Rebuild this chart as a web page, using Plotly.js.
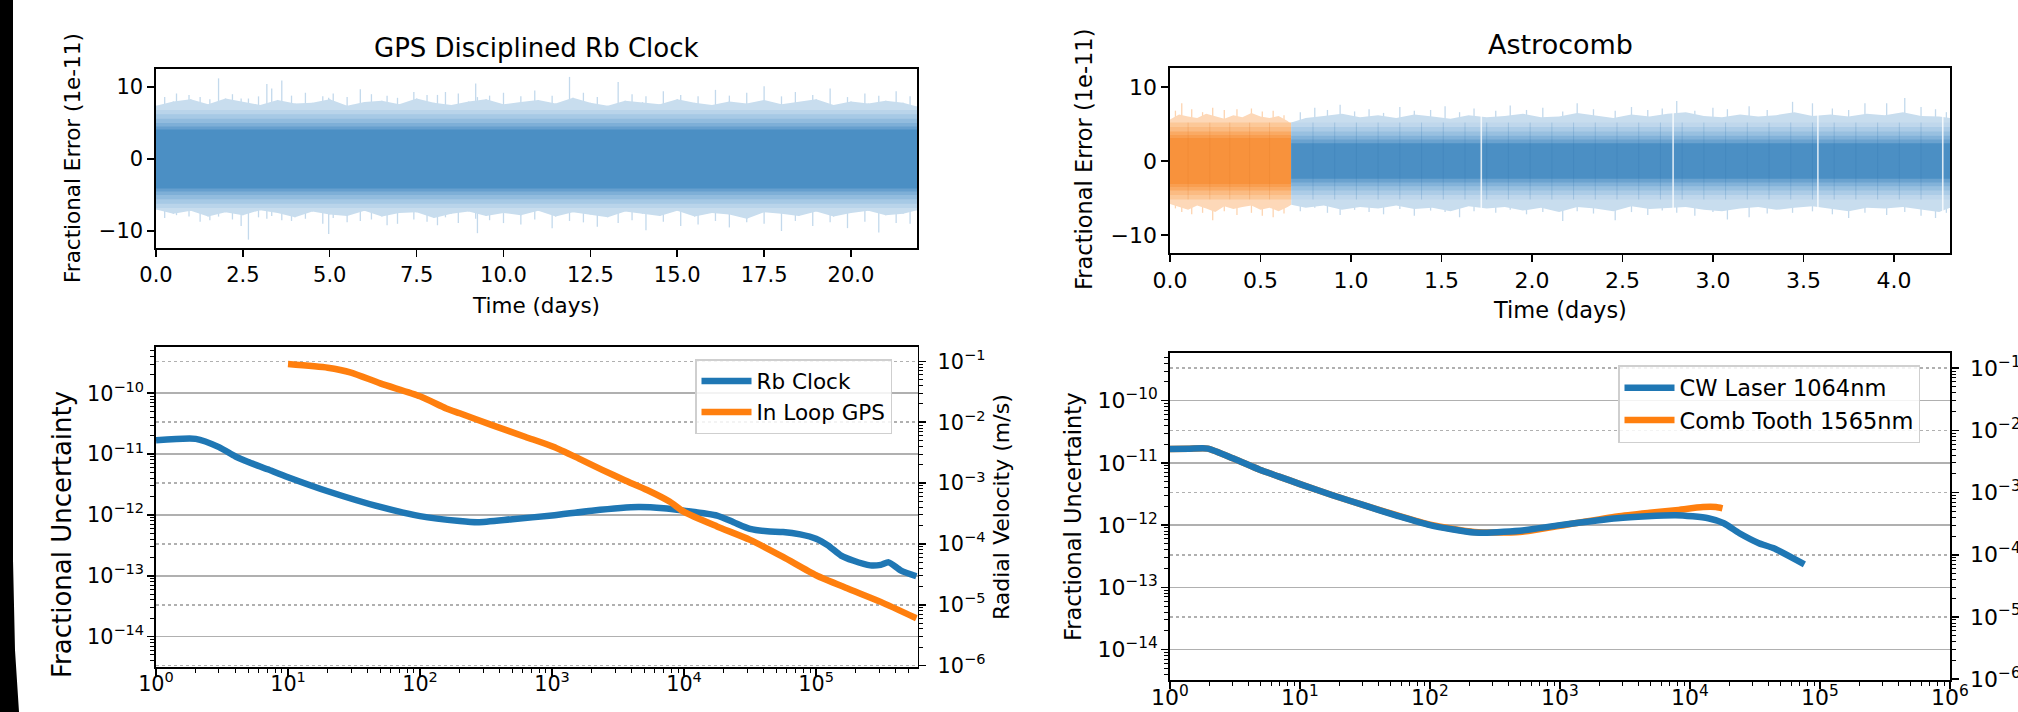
<!DOCTYPE html>
<html>
<head>
<meta charset="utf-8">
<script src="https://cdn.plot.ly/plotly-3.0.1.min.js"></script>
<style>
  html, body { margin: 0; padding: 0; background: #fff; overflow: hidden; }
  #chart { position: absolute; left: 0; top: 0; width: 2018px; height: 712px; }
  #edge { position: absolute; left: 0; top: 0; width: 20px; height: 712px; background: #000;
          clip-path: polygon(0 0, 13px 0, 13px 560px, 15px 650px, 19px 712px, 0 712px); z-index: 2; }
</style>
</head>
<body>
<div id="chart"></div>
<div id="edge"></div>
<script>
// ---------------- GPS disciplined Rb clock: fractional error (1e-11) ----------------
const rbEnvT  = [0,0.5,1,1.5,2,2.5,3,3.5,4,4.5,5,5.5,6,6.5,7,7.5,8,8.5,9,9.5,10,10.5,11,11.5,12,12.5,13,13.5,14,14.5,15,15.5,16,16.5,17,17.5,18,18.5,19,19.5,20,20.5,21,21.5,21.9];
const rbEnvHi = [7.4,8.0,8.3,7.6,8.4,7.9,7.5,8.2,7.7,7.8,8.3,7.4,7.9,8.1,7.6,8.4,7.8,7.5,8.0,8.3,7.6,7.9,8.2,7.7,8.5,7.8,7.4,8.1,7.9,7.6,8.3,7.8,7.5,8.0,7.7,8.2,7.6,7.9,8.3,7.5,8.0,7.7,8.1,7.8,7.3];
const rbEnvLo = [-7.0,-7.6,-7.2,-8.0,-7.4,-7.8,-7.1,-7.5,-8.1,-7.3,-7.7,-7.9,-7.2,-8.0,-7.5,-7.4,-8.2,-7.6,-7.3,-7.9,-7.5,-7.8,-7.2,-8.0,-7.4,-7.7,-8.1,-7.3,-7.6,-7.9,-7.2,-8.0,-7.5,-7.7,-8.3,-7.4,-7.6,-7.9,-7.3,-8.0,-7.5,-7.2,-7.8,-7.6,-7.1];
const rbSpikeT  = [0.25,0.59,0.95,1.27,1.55,1.80,2.20,2.45,2.66,2.95,3.19,3.33,3.62,3.90,4.30,4.80,4.97,5.10,5.50,5.88,6.20,6.65,6.95,7.42,7.80,8.10,8.33,8.70,9.20,9.25,9.60,10.00,10.50,10.90,11.40,11.90,12.30,12.70,13.30,13.70,14.10,14.60,15.10,15.60,16.10,16.50,17.00,17.50,18.00,18.40,18.90,19.40,19.90,20.40,20.80,21.30,21.70];
const rbSpikeHi = [8.6,9.1,8.9,8.6,8.3,11.2,9.0,8.4,8.4,8.7,10.4,9.8,10.9,8.8,9.2,8.7,8.5,9.1,8.6,9.7,9.0,8.8,8.5,9.3,8.9,8.9,9.3,9.1,10.5,8.6,8.8,9.2,8.7,9.5,8.8,11.4,9.2,8.6,10.7,9.0,8.7,9.4,8.9,8.7,9.6,8.8,9.2,10.1,8.7,9.3,8.9,9.8,8.6,9.1,8.8,9.4,8.7];
const rbSpikeLo = [-8.2,-7.8,-8.0,-8.7,-8.5,-8.0,-8.4,-9.3,-11.2,-8.1,-8.3,-7.9,-8.5,-8.6,-8.3,-9.0,-10.4,-8.2,-8.8,-8.6,-8.4,-9.2,-9.0,-8.4,-8.7,-9.2,-8.1,-8.9,-8.3,-10.3,-8.5,-8.9,-9.1,-8.4,-9.6,-8.6,-8.8,-9.4,-8.9,-8.5,-9.9,-8.7,-9.3,-9.1,-8.6,-9.5,-8.8,-9.0,-10.0,-8.6,-9.3,-8.8,-9.6,-8.7,-10.2,-8.9,-9.0];
// half widths of the increasingly dense band, outermost first
const rbBandHalf = [6.8, 6.2, 5.6, 5.0, 4.5, 4.1];

// ---------------- Astrocomb: fractional error (1e-11) ----------------
// orange stretch (first ~0.67 days)
const acOrT  = [0,0.05,0.10,0.15,0.20,0.25,0.30,0.35,0.40,0.45,0.50,0.55,0.60,0.65,0.67];
const acOrHi = [5.6,6.3,6.0,5.8,6.4,6.1,5.7,6.2,5.9,6.5,6.0,5.8,6.1,5.4,5.0];
const acOrLo = [-5.8,-6.2,-6.6,-6.0,-6.4,-6.9,-6.1,-6.5,-6.2,-6.0,-6.6,-6.3,-6.8,-6.2,-5.9];
const acOrSpikeT  = [0.03,0.065,0.12,0.18,0.236,0.30,0.37,0.45,0.51,0.57,0.63];
const acOrSpikeHi = [6.8,7.8,7.0,6.6,7.2,6.9,7.0,7.1,6.7,6.8,6.2];
const acOrSpikeLo = [-6.4,-6.9,-7.2,-7.0,-8.0,-6.8,-7.3,-7.0,-7.4,-7.6,-7.1];
const acOrStreakT = [0.10,0.22,0.33,0.44,0.55];
const acOrBandHalf = [5.2, 4.6, 4.0, 3.5, 3.1];
// blue stretch
const acBlT  = [0.67,0.75,0.85,0.95,1.05,1.15,1.25,1.35,1.45,1.55,1.65,1.75,1.85,1.95,2.05,2.15,2.25,2.35,2.45,2.55,2.65,2.75,2.85,2.95,3.05,3.15,3.25,3.35,3.45,3.55,3.65,3.75,3.85,3.95,4.05,4.15,4.25,4.31];
const acBlHi = [5.2,5.8,6.1,6.4,5.9,6.2,5.8,6.3,6.0,5.7,6.2,5.9,6.1,6.4,5.9,6.0,6.5,6.2,5.8,6.3,6.0,6.4,6.6,6.1,5.9,6.3,6.0,6.2,6.6,6.1,6.3,6.0,6.4,6.2,6.6,6.1,6.0,5.8];
const acBlLo = [-5.9,-6.3,-6.0,-6.6,-6.2,-6.4,-6.0,-6.5,-6.3,-6.8,-6.1,-6.4,-6.2,-6.7,-6.3,-6.9,-6.2,-6.4,-6.8,-6.1,-6.5,-6.3,-6.2,-6.6,-6.8,-6.4,-6.2,-6.6,-6.3,-6.1,-6.5,-6.8,-6.3,-6.4,-6.2,-6.6,-6.9,-6.3];
const acBlSpikeT  = [0.72,0.80,0.87,0.94,1.02,1.10,1.18,1.27,1.35,1.44,1.52,1.60,1.68,1.80,1.88,1.97,2.06,2.17,2.25,2.34,2.46,2.55,2.64,2.72,2.80,2.90,3.00,3.08,3.20,3.30,3.44,3.55,3.66,3.75,3.84,3.96,4.06,4.15,4.23,4.29];
const acBlSpikeHi = [6.6,7.2,6.9,7.6,6.7,7.0,6.5,7.3,6.8,6.9,7.4,6.6,7.1,6.8,7.5,6.9,7.2,6.7,7.8,7.0,6.8,7.3,6.9,7.1,8.1,6.8,7.2,7.0,7.4,6.9,8.0,7.8,7.1,6.9,7.8,7.8,8.5,7.3,7.0,6.6];
const acBlSpikeLo = [-6.8,-6.3,-7.0,-7.3,-6.6,-6.9,-7.2,-6.5,-7.4,-6.7,-6.9,-7.6,-6.8,-7.0,-6.6,-7.2,-6.9,-8.1,-6.8,-7.1,-8.0,-6.9,-7.3,-6.7,-7.0,-7.4,-6.9,-7.9,-7.6,-7.1,-7.0,-6.8,-7.2,-7.7,-7.0,-7.3,-6.9,-7.4,-7.7,-7.0];
const acBlStreakT = [0.79,0.91,1.03,1.15,1.27,1.39,1.51,1.63,1.75,1.87,1.99,2.11,2.23,2.35,2.47,2.59,2.71,2.83,2.95,3.07,3.19,3.31,3.43,3.55,3.67,3.79,3.91,4.03,4.15];
const acGapT = [1.72, 2.78, 3.58, 4.27];
const acBlBandHalf = [5.2, 4.6, 4.0, 3.4, 2.9, 2.4];
const acStreakHalf = 5.2;

// ---------------- Allan deviation (averaging time in s) ----------------
const rbTau   = [1,2,3,4,5,7,10,20,50,100,200,274,500,1000,2000,4500,7000,10000,17783,23714,31623,42658,56234,75858,100000,123027,154882,190546,257040,309030,354813,436516,575440];
const rbSigma = [1.68e-11,1.78e-11,1.30e-11,9.12e-12,7.41e-12,5.62e-12,4.17e-12,2.45e-12,1.35e-12,9.55e-13,7.94e-13,7.59e-13,8.51e-13,9.77e-13,1.175e-12,1.35e-12,1.29e-12,1.175e-12,9.77e-13,7.59e-13,5.89e-13,5.37e-13,5.25e-13,4.79e-13,4.07e-13,3.16e-13,2.14e-13,1.78e-13,1.48e-13,1.51e-13,1.66e-13,1.23e-13,9.8e-14];
const gpsTau   = [10,20,30,50,100,158,200,347,631,1023,1585,2399,3548,5248,7762,10000,17783,31623,56234,100000,173780,309030,575440];
const gpsSigma = [3.02e-10,2.63e-10,2.19e-10,1.45e-10,8.91e-11,5.62e-11,4.68e-11,3.02e-11,1.91e-11,1.32e-11,8.51e-12,5.50e-12,3.72e-12,2.57e-12,1.66e-12,1.12e-12,6.46e-13,3.89e-13,2.04e-13,1.02e-13,6.17e-14,3.72e-14,2.0e-14];
const cwTau   = [1,1.41,1.95,3.08,4.9,6.9,10,17.8,30.9,56.2,100,219,490,1000,2754,7762,13804,18197,23988,33884,43652,75858];
const cwSigma = [1.675e-11,1.69e-11,1.70e-11,1.175e-11,7.76e-12,6.03e-12,4.57e-12,3.02e-12,2.09e-12,1.41e-12,1.0e-12,7.59e-13,8.13e-13,1.0e-12,1.29e-12,1.445e-12,1.29e-12,1.07e-12,7.41e-13,5.13e-13,4.27e-13,2.34e-13];
const toothTau   = [1,1.41,1.95,3.08,4.9,6.9,10,17.8,30.9,56.2,100,219,490,1000,2754,4898,7762,12589,15849,17783];
const toothSigma = [1.675e-11,1.69e-11,1.70e-11,1.175e-11,7.76e-12,6.03e-12,4.57e-12,3.02e-12,2.09e-12,1.43e-12,1.02e-12,7.76e-13,7.76e-13,9.77e-13,1.38e-12,1.58e-12,1.74e-12,1.95e-12,1.95e-12,1.86e-12];

const SPEED_OF_LIGHT = 2.998e8;   // fractional -> radial velocity (m/s)

// ---------------- styling ----------------
const W = 2018, H = 712;
const FONT = 'DejaVu Sans';
const BLUE = '#1f77b4', ORANGE = '#ff7f0e';
const px = v => v / W;
const py = v => 1 - v / H;

const rbShades = { spike: '#c3d9ec', env: '#c8ddee',
  bands: ['#b9d4ea', '#a6c9e5', '#92bcde', '#7eafd7', '#669fce', '#4b8fc4'] };
const acBlShades = { spike: '#c3d9ec', env: '#c8ddee', streak: 'rgba(45,115,175,0.22)',
  bands: ['#bfd7ec', '#accce7', '#98c0e0', '#82b2d9', '#6aa2cf', '#4b8fc4'] };
const acOrShades = { spike: '#fdd4b0', env: '#fdd8b8', streak: 'rgba(225,120,35,0.22)',
  bands: ['#fcc898', '#fbbb82', '#faaa64', '#f99e50', '#f8923c'] };

function polygon(t, hi, lo) {
  return { x: t.concat(t.slice().reverse()), y: hi.concat(lo.slice().reverse()) };
}
function segments(t, lo, hi) {
  const x = [], y = [];
  t.forEach((v, i) => {
    x.push(v, v, null);
    y.push(Array.isArray(lo) ? lo[i] : lo, Array.isArray(hi) ? hi[i] : hi, null);
  });
  return { x, y };
}
function fillTrace(poly, color, xa, ya) {
  return { type: 'scatter', mode: 'lines', x: poly.x, y: poly.y, fill: 'toself',
           fillcolor: color, line: { width: 0, color: color }, xaxis: xa, yaxis: ya,
           hoverinfo: 'skip', showlegend: false };
}
function segTrace(seg, color, width, xa, ya) {
  return { type: 'scatter', mode: 'lines', x: seg.x, y: seg.y, line: { color: color, width: width },
           xaxis: xa, yaxis: ya, hoverinfo: 'skip', showlegend: false, connectgaps: false };
}
function bandRect(t, half) {
  const t0 = t[0], t1 = t[t.length - 1];
  return { x: [t0, t1, t1, t0, t0], y: [half, half, -half, -half, half] };
}

const traces = [];

// --- noise band, Rb clock
traces.push(segTrace(segments(rbSpikeT, rbSpikeLo, rbSpikeHi), rbShades.spike, 1.3, 'x', 'y'));
traces.push(segTrace(segments(rbEnvT, rbEnvLo, rbEnvHi), rbShades.spike, 1.3, 'x', 'y'));
traces.push(fillTrace(polygon(rbEnvT, rbEnvHi, rbEnvLo), rbShades.env, 'x', 'y'));
rbBandHalf.forEach((h, i) => traces.push(fillTrace(bandRect(rbEnvT, h), rbShades.bands[i], 'x', 'y')));

// --- noise band, Astrocomb (orange part)
traces.push(segTrace(segments(acOrSpikeT, acOrSpikeLo, acOrSpikeHi), acOrShades.spike, 1.3, 'x2', 'y2'));
traces.push(fillTrace(polygon(acOrT, acOrHi, acOrLo), acOrShades.env, 'x2', 'y2'));
acOrBandHalf.forEach((h, i) => traces.push(fillTrace(bandRect(acOrT, h), acOrShades.bands[i], 'x2', 'y2')));
traces.push(segTrace(segments(acOrStreakT, -acStreakHalf, acStreakHalf), acOrShades.streak, 1, 'x2', 'y2'));

// --- noise band, Astrocomb (blue part)
traces.push(segTrace(segments(acBlSpikeT, acBlSpikeLo, acBlSpikeHi), acBlShades.spike, 1.3, 'x2', 'y2'));
traces.push(fillTrace(polygon(acBlT, acBlHi, acBlLo), acBlShades.env, 'x2', 'y2'));
acBlBandHalf.forEach((h, i) => traces.push(fillTrace(bandRect(acBlT, h), acBlShades.bands[i], 'x2', 'y2')));
traces.push(segTrace(segments(acBlStreakT, -acStreakHalf, acStreakHalf), acBlShades.streak, 1, 'x2', 'y2'));
traces.push(segTrace(segments(acGapT, -7, 7), 'rgba(255,255,255,0.8)', 1.6, 'x2', 'y2'));

// --- Allan deviation curves
const curveW = 6.5;
const curveLine = c => ({ color: c, width: curveW, shape: 'spline', smoothing: 0.6 });
traces.push({ type: 'scatter', mode: 'lines', name: 'Rb Clock', x: rbTau, y: rbSigma,
  line: curveLine(BLUE), xaxis: 'x3', yaxis: 'y3', legend: 'legend' });
traces.push({ type: 'scatter', mode: 'lines', name: 'In Loop GPS', x: gpsTau, y: gpsSigma,
  line: curveLine(ORANGE), xaxis: 'x3', yaxis: 'y3', legend: 'legend' });
traces.push({ type: 'scatter', mode: 'lines', name: 'Comb Tooth 1565nm', x: toothTau, y: toothSigma, legendrank: 2,
  line: curveLine(ORANGE), xaxis: 'x4', yaxis: 'y5', legend: 'legend2' });
traces.push({ type: 'scatter', mode: 'lines', name: 'CW Laser 1064nm', x: cwTau, y: cwSigma, legendrank: 1,
  line: curveLine(BLUE), xaxis: 'x4', yaxis: 'y5', legend: 'legend2' });
// same stabilities expressed as radial velocity, carried by the right-hand axes
traces.push({ type: 'scatter', mode: 'lines', x: rbTau, y: rbSigma.map(s => s * SPEED_OF_LIGHT),
  line: { width: 0 }, opacity: 0, xaxis: 'x3', yaxis: 'y4', showlegend: false, hoverinfo: 'skip' });
traces.push({ type: 'scatter', mode: 'lines', x: cwTau, y: cwSigma.map(s => s * SPEED_OF_LIGHT),
  line: { width: 0 }, opacity: 0, xaxis: 'x4', yaxis: 'y6', showlegend: false, hoverinfo: 'skip' });

// ---------------- axes ----------------
function linAxis(domain, range, dtick, fmt, fs, anchor) {
  return { domain, range, dtick, tick0: 0, tickformat: fmt, anchor,
    ticks: 'outside', ticklen: 7, tickwidth: 1.5, tickcolor: '#000',
    showline: true, mirror: true, linecolor: '#000', linewidth: 1.6,
    showgrid: false, zeroline: false, tickfont: { family: FONT, size: fs, color: '#000' } };
}
function logAxis(domain, range, fs, anchor, extra) {
  return Object.assign({ type: 'log', domain, range, dtick: 1, tick0: 0, anchor,
    exponentformat: 'power', labelalias: { '1': '10<sup>0</sup>', '10': '10<sup>1</sup>' },
    ticks: 'outside', ticklen: 7, tickwidth: 1.5, tickcolor: '#000',
    minor: { dtick: 'D1', ticks: 'outside', ticklen: 4, tickwidth: 1, tickcolor: '#000', showgrid: false },
    showline: true, linecolor: '#000', linewidth: 1.6, zeroline: false,
    tickfont: { family: FONT, size: fs, color: '#000' } }, extra || {});
}

const yLeftRange  = [-14.5, -9.24];
const yRightRange = [-14.49, -9.233];
const cLog = Math.log10(SPEED_OF_LIGHT);
const gridSolid = { showgrid: true, gridcolor: '#b0b0b0', gridwidth: 1.5 };
const gridDot   = { showgrid: true, gridcolor: '#b0b0b0', gridwidth: 1.5, griddash: 'dot', ticklabelstandoff: 8 };

const legendStyle = {
  xanchor: 'left', yanchor: 'top', bgcolor: 'rgba(255,255,255,0.85)',
  bordercolor: '#cfcfcf', borderwidth: 1.5, tracegroupgap: 0, itemwidth: 50
};

const layout = {
  width: W, height: H,
  margin: { l: 0, r: 0, t: 0, b: 0 },
  paper_bgcolor: '#fff', plot_bgcolor: '#fff',
  font: { family: FONT, color: '#000' },
  showlegend: true,
  xaxis:  linAxis([px(156), px(917)], [0, 21.9], 2.5, '.1f', 21, 'y'),
  yaxis:  linAxis([py(248), py(69)], [-12.36, 12.5], 10, 'd', 21, 'x'),
  xaxis2: linAxis([px(1170), px(1950)], [0, 4.31], 0.5, '.1f', 22, 'y2'),
  yaxis2: linAxis([py(253), py(68)], [-12.43, 12.57], 10, 'd', 22, 'x2'),
  xaxis3: logAxis([px(156), px(917.7)], [0, 5.77], 16.6, 'y3', { mirror: true, showgrid: false, ticklabelstandoff: -9 }),
  yaxis3: logAxis([py(667), py(347)], yLeftRange, 16.6, 'x3', gridSolid),
  yaxis4: logAxis([py(667), py(347)], [yLeftRange[0] + cLog, yLeftRange[1] + cLog], 16.6, 'x3',
            Object.assign({ overlaying: 'y3', side: 'right' }, gridDot)),
  xaxis4: logAxis([px(1170), px(1950)], [0, 6], 17.6, 'y5', { mirror: true, showgrid: false, ticklabelstandoff: -9 }),
  yaxis5: logAxis([py(680), py(353)], yRightRange, 17.6, 'x4', gridSolid),
  yaxis6: logAxis([py(680), py(353)], [yRightRange[0] + cLog, yRightRange[1] + cLog], 17.6, 'x4',
            Object.assign({ overlaying: 'y5', side: 'right' }, gridDot)),
  legend:  Object.assign({ x: px(695), y: py(359), font: { family: FONT, size: 21.5, color: '#000' } }, legendStyle),
  legend2: Object.assign({ x: px(1618), y: py(365), font: { family: FONT, size: 22.5, color: '#000' } }, legendStyle),
  annotations: []
};

function label(text, x, y, size, angle) {
  layout.annotations.push({ text, x: px(x), y: py(y), xref: 'paper', yref: 'paper',
    xanchor: 'center', yanchor: 'middle', showarrow: false, textangle: angle || 0,
    font: { family: FONT, size, color: '#000' } });
}
label('GPS Disciplined Rb Clock', 536, 48, 26);
label('Astrocomb', 1560, 45, 27);
label('Time (days)', 536, 305, 21.5);
label('Time (days)', 1560, 310, 22.5);
label('Fractional Error (1e-11)', 72, 158, 21.5, -90);
label('Fractional Error (1e-11)', 1084, 160, 22.5, -90);
label('Fractional Uncertainty', 62, 535, 26, -90);
label('Fractional Uncertainty', 1073, 517, 22.5, -90);
label('Radial Velocity (m/s)', 1001, 507, 22, -90);

Plotly.newPlot('chart', traces, layout, { staticPlot: true, displayModeBar: false });
</script>
</body>
</html>
